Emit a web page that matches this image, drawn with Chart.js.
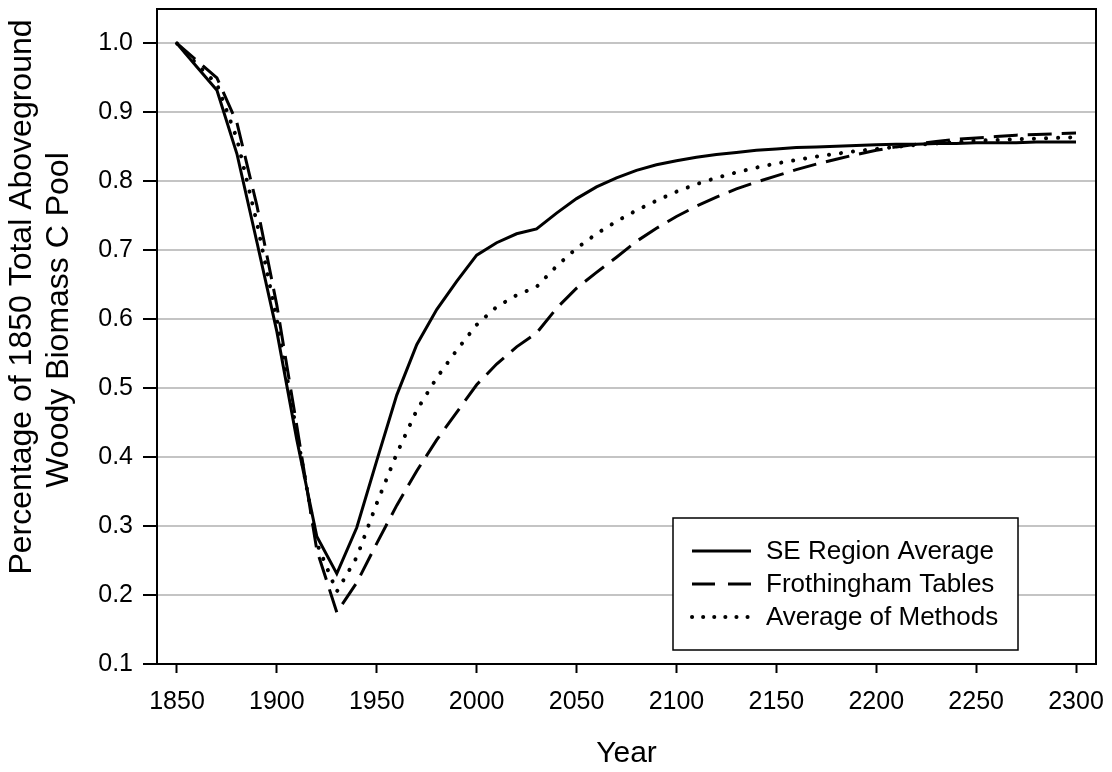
<!DOCTYPE html>
<html>
<head>
<meta charset="utf-8">
<script src="https://cdn.jsdelivr.net/npm/chart.js@4.4.1/dist/chart.umd.min.js"></script>
<style>
  html, body { margin: 0; padding: 0; background: #fff; }
  #wrap { width: 1112px; height: 772px; }
</style>
</head>
<body>
<div id="wrap"><canvas id="chart" width="1112" height="772"></canvas></div>
<script>
// data (every 10 years)
var years = [1850, 1860, 1870, 1880, 1890, 1900, 1910, 1920, 1930, 1940,
             1950, 1960, 1970, 1980, 1990, 2000, 2010, 2020, 2030, 2040,
             2050, 2060, 2070, 2080, 2090, 2100, 2110, 2120, 2130, 2140,
             2150, 2160, 2170, 2180, 2190, 2200, 2210, 2220, 2230, 2240,
             2250, 2260, 2270, 2280, 2290, 2300];

var seRegion = [1.000, 0.966, 0.932, 0.840, 0.712, 0.582, 0.425, 0.285, 0.231, 0.298,
                0.395, 0.490, 0.563, 0.614, 0.655, 0.693, 0.711, 0.724, 0.731, 0.754,
                0.775, 0.792, 0.805, 0.816, 0.824, 0.830, 0.835, 0.839, 0.842, 0.845,
                0.847, 0.849, 0.850, 0.851, 0.852, 0.853, 0.854, 0.854, 0.855, 0.855,
                0.856, 0.856, 0.856, 0.857, 0.857, 0.857];

var frothingham = [1.000, 0.975, 0.950, 0.885, 0.765, 0.620, 0.445, 0.265, 0.175, 0.218,
                   0.275, 0.330, 0.380, 0.425, 0.465, 0.505, 0.535, 0.560, 0.580, 0.616,
                   0.645, 0.668, 0.690, 0.713, 0.732, 0.749, 0.764, 0.777, 0.789, 0.799,
                   0.808, 0.817, 0.825, 0.832, 0.839, 0.845, 0.850, 0.854, 0.858, 0.861,
                   0.863, 0.865, 0.867, 0.868, 0.869, 0.870];

var avgMethods = [1.000, 0.970, 0.941, 0.862, 0.740, 0.600, 0.435, 0.275, 0.205, 0.255,
                  0.333, 0.405, 0.468, 0.515, 0.555, 0.592, 0.618, 0.635, 0.647, 0.677,
                  0.703, 0.724, 0.742, 0.758, 0.772, 0.785, 0.796, 0.805, 0.813, 0.820,
                  0.826, 0.831, 0.836, 0.840, 0.844, 0.847, 0.850, 0.853, 0.855, 0.857,
                  0.859, 0.860, 0.861, 0.862, 0.863, 0.864];

var xTicks = [1850, 1900, 1950, 2000, 2050, 2100, 2150, 2200, 2250, 2300];
var yTicks = [0.1, 0.2, 0.3, 0.4, 0.5, 0.6, 0.7, 0.8, 0.9, 1.0];
var yTitle = ['Percentage of 1850 Total Aboveground', 'Woody Biomass C Pool'];

var FONT = "'Liberation Sans', Arial, sans-serif";

// frame round the plot, boxed legend inside it, and the two-line y title
var framePlugin = {
  id: 'frame',
  afterDraw: function (chart) {
    var ctx = chart.ctx, a = chart.chartArea;
    ctx.save();
    ctx.strokeStyle = '#000';
    ctx.lineWidth = 2;
    ctx.strokeRect(a.left, a.top, a.right - a.left, a.bottom - a.top);

    // legend
    var bx = a.right - 423, by = a.bottom - 146, bw = 345, bh = 132;
    ctx.fillStyle = '#fff';
    ctx.fillRect(bx, by, bw, bh);
    ctx.lineWidth = 1.5;
    ctx.strokeRect(bx, by, bw, bh);
    ctx.font = '26px ' + FONT;
    ctx.textBaseline = 'middle';
    ctx.fillStyle = '#000';
    chart.data.datasets.forEach(function (ds, i) {
      var y = by + 33 + i * 33;
      ctx.save();
      ctx.strokeStyle = ds.borderColor;
      ctx.lineWidth = ds.borderWidth;
      ctx.lineCap = ds.borderCapStyle || 'butt';
      ctx.setLineDash(ds.legendDash || []);
      ctx.beginPath();
      ctx.moveTo(bx + 19, y);
      ctx.lineTo(bx + 78, y);
      ctx.stroke();
      ctx.restore();
      ctx.fillText(ds.label, bx + 93, y + 1);
    });

    // y axis title
    ctx.font = '32px ' + FONT;
    ctx.textAlign = 'center';
    ctx.textBaseline = 'middle';
    var cy = [297, 320], cx = [22, 59];
    yTitle.forEach(function (t, i) {
      ctx.save();
      ctx.translate(cx[i], cy[i]);
      ctx.rotate(-Math.PI / 2);
      ctx.fillText(t, 0, 0);
      ctx.restore();
    });
    ctx.restore();
  }
};

new Chart(document.getElementById('chart'), {
  type: 'line',
  data: {
    labels: years,
    datasets: [
      {
        label: 'SE Region Average',
        data: seRegion,
        borderColor: '#000',
        borderWidth: 3,
        pointRadius: 0,
        tension: 0
      },
      {
        label: 'Frothingham Tables',
        data: frothingham,
        borderColor: '#000',
        borderWidth: 3,
        borderDash: [24, 10],
        legendDash: [23, 13],
        pointRadius: 0,
        tension: 0
      },
      {
        label: 'Average of Methods',
        data: avgMethods,
        borderColor: '#000',
        borderWidth: 4,
        borderDash: [0.1, 12],
        legendDash: [0.1, 11],
        borderCapStyle: 'round',
        pointRadius: 0,
        tension: 0
      }
    ]
  },
  options: {
    responsive: false,
    devicePixelRatio: 1,
    animation: false,
    layout: { padding: { top: 9, right: 16, left: 0, bottom: 0 } },
    plugins: {
      legend: { display: false },
      tooltip: { enabled: false }
    },
    scales: {
      x: {
        type: 'linear',
        min: 1840,
        max: 2310,
        afterBuildTicks: function (s) {
          s.ticks = xTicks.map(function (v) { return { value: v }; });
        },
        afterFit: function (s) {
          s.height = 108;
          s.paddingLeft = 0; s.paddingRight = 0;
          s.paddingTop = 0; s.paddingBottom = 0;
        },
        ticks: {
          color: '#000',
          font: { family: FONT, size: 25 },
          padding: 14,
          maxRotation: 0,
          autoSkip: false,
          callback: function (v) { return String(v); }
        },
        grid: {
          drawOnChartArea: false,
          tickLength: 9,
          tickColor: '#000',
          tickWidth: 2
        },
        border: { color: '#000', width: 2 },
        title: {
          display: true,
          text: 'Year',
          color: '#000',
          font: { family: FONT, size: 30 },
          padding: 0
        }
      },
      y: {
        min: 0.1,
        max: 1.05,
        afterBuildTicks: function (s) {
          s.ticks = yTicks.map(function (v) { return { value: v }; });
        },
        afterFit: function (s) {
          s.width = 157;
          s.paddingLeft = 0; s.paddingRight = 0;
          s.paddingTop = 0; s.paddingBottom = 0;
        },
        ticks: {
          color: '#000',
          font: { family: FONT, size: 25 },
          padding: 10,
          callback: function (v) { return v.toFixed(1); }
        },
        grid: {
          color: '#c4c4c4',
          lineWidth: 2,
          tickLength: 14,
          tickColor: '#000',
          tickWidth: 2
        },
        border: { color: '#000', width: 2 },
        title: { display: false }
      }
    }
  },
  plugins: [framePlugin]
});
</script>
</body>
</html>
